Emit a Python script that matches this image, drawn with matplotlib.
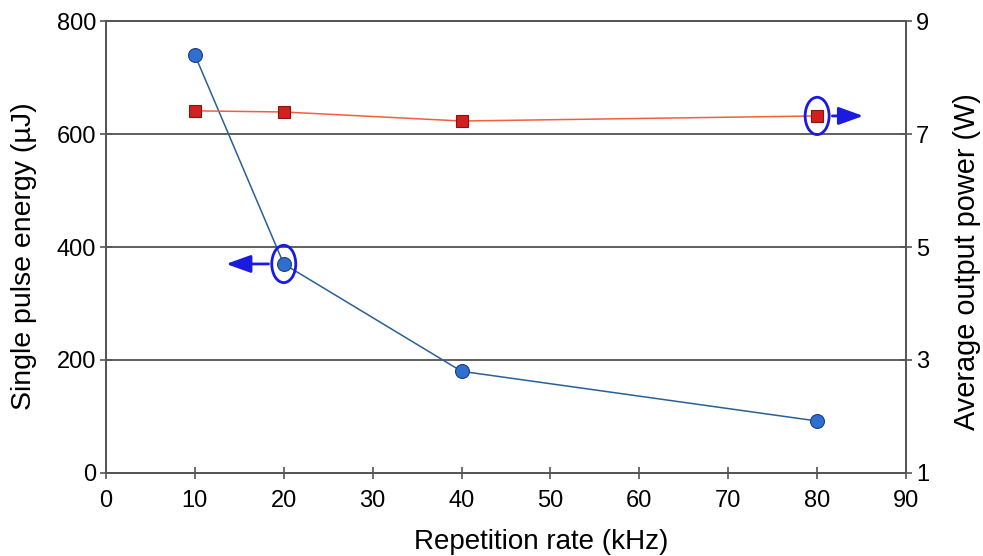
import matplotlib
matplotlib.use("Agg")
import matplotlib.pyplot as plt
from matplotlib.patches import Ellipse

plt.rcParams['font.family'] = ['Liberation Sans', 'DejaVu Sans']

rep_rate = [10, 20, 40, 80]
pulse_energy = [740, 370, 180, 92]
avg_power = [7.41, 7.39, 7.23, 7.32]

x_ticks = [0, 10, 20, 30, 40, 50, 60, 70, 80, 90]
y1_ticks = [0, 200, 400, 600, 800]
y2_ticks = [1, 3, 5, 7, 9]

fig = plt.figure(figsize=(9.83, 5.56), dpi=100)
ax1 = fig.add_axes([0.1078, 0.1493, 0.8139, 0.8129])
ax2 = ax1.twinx()

axis_col = '#555555'
for ax in (ax1, ax2):
    for s in ax.spines.values():
        s.set_color(axis_col)
        s.set_linewidth(1.3)

ax1.set_xlim(0, 90)
ax1.set_ylim(0, 800)
ax2.set_ylim(1, 9)
ax1.set_xticks(x_ticks)
ax1.set_yticks(y1_ticks)
ax2.set_yticks(y2_ticks)

for y in y1_ticks[1:-1]:
    ax1.axhline(y, color='#444444', lw=1.2, zorder=0)

ax1.tick_params(axis='y', direction='inout', length=8, width=1.2, color=axis_col,
                labelsize=17, pad=3)
ax1.tick_params(axis='x', direction='inout', length=8, width=1.2, color=axis_col,
                labelsize=17, pad=8)
ax2.tick_params(axis='y', direction='inout', length=8, width=1.2, color=axis_col,
                labelsize=17, pad=3)

ax1.plot(rep_rate, pulse_energy, color='#2a5f95', lw=1.1, marker='o', ms=10,
         markerfacecolor='#2f6fd0', markeredgecolor='#1a3f80', markeredgewidth=0.8, zorder=3)
ax2.plot(rep_rate, avg_power, color='#f06040', lw=1.1, marker='s', ms=8.5,
         markerfacecolor='#d02020', markeredgecolor='#901010', markeredgewidth=0.8, zorder=3)

fig.text(0.551, 0.0252, 'Repetition rate (kHz)', fontsize=20, ha='center', va='center')
fig.text(0.0244, 0.5396, 'Single pulse energy (µJ)', fontsize=20.5, rotation=90,
         ha='center', va='center')
fig.text(0.9837, 0.5288, 'Average output power (W)', fontsize=20.8, rotation=90,
         ha='center', va='center')

# annotations
blue = '#1a1ae0'
astyle = '-|>,head_length=0.75,head_width=0.27'
ax1.add_patch(Ellipse((20, 370), 2.7, 66, fill=False, edgecolor=blue, lw=2, zorder=4))
ax1.annotate('', xy=(13.2, 370), xytext=(18.6, 370),
             arrowprops=dict(arrowstyle=astyle, color=blue, lw=2, mutation_scale=20), zorder=4)
ax2.add_patch(Ellipse((80, 7.32), 2.7, 0.66, fill=False, edgecolor=blue, lw=2, zorder=4))
ax2.annotate('', xy=(85.5, 7.32), xytext=(81.4, 7.32),
             arrowprops=dict(arrowstyle=astyle, color=blue, lw=2, mutation_scale=20), zorder=4)

fig.savefig('out.png', dpi=100)
